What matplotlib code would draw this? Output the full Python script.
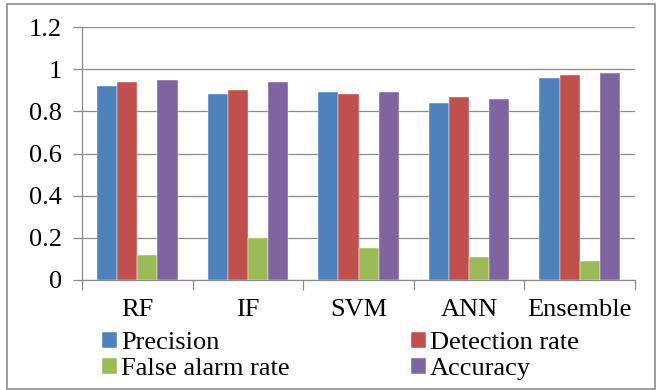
import matplotlib
matplotlib.use("Agg")
import matplotlib.pyplot as plt
import numpy as np
from matplotlib.patches import Rectangle

plt.rcParams['font.family'] = 'serif'
plt.rcParams['font.serif'] = ['Liberation Serif', 'DejaVu Serif']

models = ['RF', 'IF', 'SVM', 'ANN', 'Ensemble']
precision = [0.92, 0.88, 0.89, 0.84, 0.96]
detection_rate = [0.94, 0.90, 0.88, 0.87, 0.97]
false_alarm = [0.12, 0.20, 0.15, 0.11, 0.09]
accuracy = [0.95, 0.94, 0.89, 0.86, 0.98]

series = [('Precision', precision, '#4F81BD'),
          ('Detection rate', detection_rate, '#C0504D'),
          ('False alarm rate', false_alarm, '#9BBB59'),
          ('Accuracy', accuracy, '#8064A2')]

W, H = 660, 390
FS = 19
fig = plt.figure(figsize=(6.6, 3.9), dpi=100)
ax = fig.add_axes([82 / W, 1 - 280 / H, (635 - 82) / W, (280 - 27) / H])

x = np.arange(len(models))
w = 1 / 5.5
bars = []
for i, (name, vals, col) in enumerate(series):
    b = ax.bar(x + (i - 1.5) * w, vals, w, color=col, label=name,
               edgecolor='white', linewidth=0.3, zorder=3)
    bars.append(b)

ax.set_xlim(-0.5, len(models) - 0.5)
ax.set_ylim(0, 1.2)
ax.set_yticks(np.arange(0, 1.21, 0.2))
ax.set_yticklabels(['0', '0.2', '0.4', '0.6', '0.8', '1', '1.2'])
ax.yaxis.grid(True, color='#8c8c8c', linewidth=0.9, zorder=0)
ax.set_xticks(x)
ax.set_xticklabels(models)
ax.set_xticks(np.arange(-0.5, len(models), 1), minor=True)
ax.tick_params(axis='x', which='major', length=0, pad=14, labelsize=FS)
ax.tick_params(axis='x', which='minor', length=7, color='#8c8c8c', width=0.9)
ax.tick_params(axis='y', length=6.5, color='#8c8c8c', width=0.9, labelsize=FS, pad=8)

for s in ['top', 'right']:
    ax.spines[s].set_visible(False)
for s in ['left', 'bottom']:
    ax.spines[s].set_color('#8c8c8c')
    ax.spines[s].set_linewidth(0.9)

# column-major fill, so order handles to read row by row
order = [0, 2, 1, 3]
fig.legend([bars[k] for k in order], [series[k][0] for k in order],
           loc='upper left', bbox_to_anchor=(102 / W, 1 - 332 / H), ncol=2,
           frameon=False, fontsize=FS, handlelength=0.56, handleheight=0.56,
           handletextpad=0.16, columnspacing=4.6, labelspacing=0.12,
           borderpad=0, borderaxespad=0)

fig.patches.append(Rectangle((7 / W, 1.5 / H), 648 / W, 384.5 / H, transform=fig.transFigure,
                             fill=False, edgecolor='#8c8c8c', linewidth=1.2))

fig.savefig('out.png', dpi=100)
